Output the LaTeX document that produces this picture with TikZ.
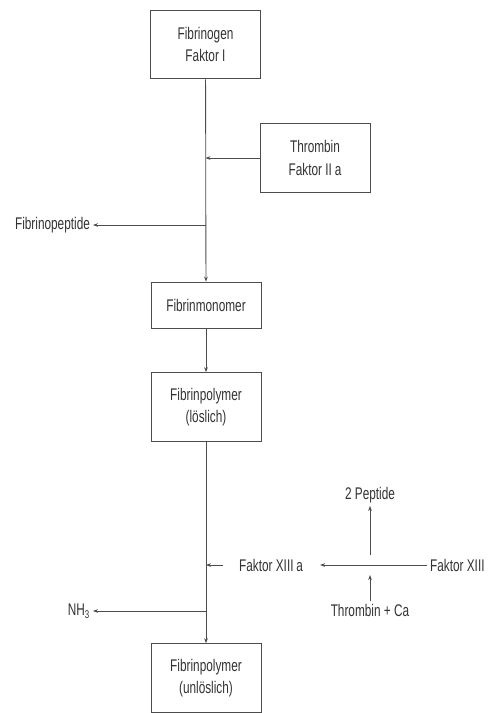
\documentclass[tikz,border=0pt]{standalone}
\usepackage{fontspec}
\setmainfont{Liberation Sans}[FakeStretch=0.7]
\usepackage{tikz}
\usetikzlibrary{arrows.meta,positioning}

\begin{document}
\begin{tikzpicture}[
  x=0.025cm, y=-0.025cm,
  font=\fontsize{12}{16}\selectfont,
  text=black!80,
  box/.style={rectangle, draw=black!70, line width=0.6pt, minimum width=2.75cm, align=center},
  tallbox/.style={box, minimum height=1.72cm},
  flatbox/.style={box, minimum height=1.15cm},
  label/.style={inner sep=2pt},
  arrow/.style={-{Stealth[length=3.5pt,width=2.6pt]}, draw=black!70, line width=0.6pt}
]
\useasboundingbox (0,0) rectangle (488,713);

% main chain
\node[tallbox] (fibrinogen) at (205.5,44.5) {Fibrinogen\\Faktor I};
\node[tallbox] (thrombin) at (315,158) {Thrombin\\Faktor II\,a};
\node[flatbox] (monomer) at (206,305) {Fibrinmonomer};
\node[tallbox] (soluble) at (206,407) {Fibrinpolymer\\(löslich)};
\node[tallbox] (insoluble) at (206,678) {Fibrinpolymer\\(unlöslich)};

\draw[arrow] (fibrinogen) -- (monomer);
\draw[arrow] (monomer) -- (soluble);
\draw[arrow] (soluble) -- (insoluble);

% side products and activators
\node[label, anchor=east] (peptide) at (93,225) {Fibrinopeptide};
\node[label, anchor=east] (ammonia) at (93,611) {NH\textsubscript{3}};
\draw[arrow] (thrombin.west) -- (thrombin.west -| fibrinogen.south);
\draw[arrow] (peptide.east -| fibrinogen.south) -- (peptide.east);
\draw[arrow] (ammonia.east -| soluble.south) -- (ammonia.east);

% Faktor XIII activation
\node[label, anchor=west] (xiiia) at (236,565) {Faktor XIII\,a};
\node[label, anchor=west] (xiii) at (427,565) {Faktor XIII};
\node[label] (peptides) at (370,495) {2 Peptide};
\node[label] (thrombinca) at (370,610) {Thrombin + Ca};
\coordinate (crossup) at (370,555);
\coordinate (crossdown) at (370,575);

\draw[arrow, shorten <=9pt] (xiiia.west) -- (xiiia.west -| soluble.south);
\draw[arrow, shorten >=10pt] (xiii.west) -- (xiiia.east);
\draw[arrow] (crossup) -- (peptides.south);
\draw[arrow] (thrombinca.north) -- (crossdown);

\end{tikzpicture}
\end{document}
